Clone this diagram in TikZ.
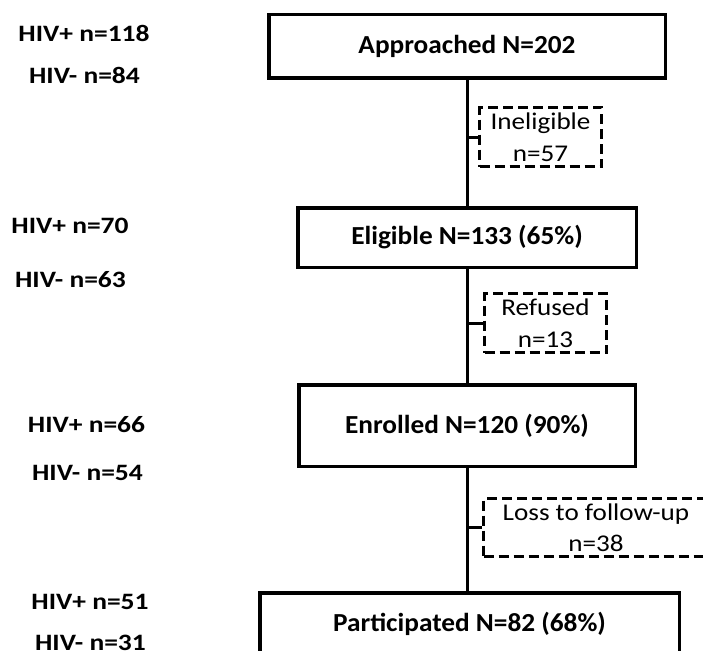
\documentclass[tikz,border=0pt]{standalone}
\usepackage{fontspec}
\setmainfont{Carlito}
\newfontfamily\stagefont[FakeStretch=1.05]{Carlito}
\newfontfamily\countfont[FakeStretch=1.17]{Carlito}
\newfontfamily\exclfont[FakeStretch=1.13]{Carlito}
\tikzset{
  stagebox/.style={draw, line width=3.5pt, inner sep=0pt,
    font=\stagefont\bfseries\fontsize{26}{31}\selectfont},
  exclbox/.style={draw, line width=3pt, dash pattern=on 10pt off 5pt,
    inner sep=0pt, align=center,
    font=\exclfont\fontsize{24}{31.5}\selectfont},
  countlabel/.style={inner sep=0pt,
    font=\countfont\bfseries\fontsize{23.5}{28}\selectfont},
  trunk/.style={line width=3pt}
}
\begin{document}
\begin{tikzpicture}[x=1pt, y=-1pt]
\clip (0,0) rectangle (703,650);

% Main stages
\node[stagebox, minimum width=396.5, minimum height=63.5] (appr) at (467,46.5) {Approached N=202};
\node[stagebox, minimum width=338.5, minimum height=59.5] (elig) at (467,237.5) {Eligible N=133 (65\%)};
\node[stagebox, minimum width=336.5, minimum height=81.5] (enrol) at (467,425.5) {Enrolled N=120 (90\%)};
\node[stagebox, minimum width=419.5, minimum height=61] (part) at (469.5,623.5) {Participated N=82 (68\%)};

% Exclusions
\node[exclbox, minimum width=122, minimum height=59] (inel) at (540.5,137) {Ineligible\\n=57};
\node[exclbox, minimum width=122, minimum height=59] (refu) at (545.5,323) {Refused\\n=13};
\node[exclbox, minimum width=225, minimum height=58] (loss) at (596,527.5) {Loss to follow-up\\n=38};

% Flow lines
\draw[trunk] (appr.south) -- (elig.north);
\draw[trunk] (elig.south) -- (enrol.north);
\draw[trunk] (enrol.south) -- (enrol.south |- part.north);
\draw[trunk] (inel.west) -- (inel.west -| appr.south);
\draw[trunk] (refu.west) -- (refu.west -| elig.south);
\draw[trunk] (loss.west) -- (loss.west -| enrol.south);

% HIV split per stage
\foreach \name/\x/\y/\txt in {pos1/84/33.5/{HIV+ n=118}, neg1/84.5/75.5/{HIV- n=84},
    pos2/70/225.5/{HIV+ n=70}, neg2/70.5/279.5/{HIV- n=63},
    pos3/86.5/424.5/{HIV+ n=66}, neg3/87.5/472.5/{HIV- n=54},
    pos4/90/602/{HIV+ n=51}, neg4/90.5/642.5/{HIV- n=31}}
  \node[countlabel] (\name) at (\x,\y) {\txt};
\end{tikzpicture}
\end{document}
